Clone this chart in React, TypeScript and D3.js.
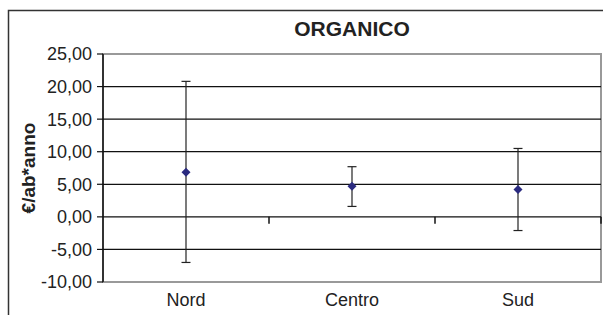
import React from "react";
import * as d3 from "d3";

// values
const categories = ["Nord", "Centro", "Sud"];
const means = [6.85, 4.7, 4.2];
const upper = [20.8, 7.7, 10.5];
const lower = [-7.0, 1.6, -2.1];
const yTicks = [-10, -5, 0, 5, 10, 15, 20, 25];

const W = 603, H = 315;
const plot = { left: 103, right: 601, top: 54, bottom: 282 };

const itLocale = d3.formatLocale({
    decimal: ",",
    thousands: ".",
    grouping: [3],
    currency: ["€", ""],
    minus: "-",
});
const fmt = itLocale.format(".2f");

function App() {
    const x = d3.scaleBand().domain(categories).range([plot.left, plot.right]);
    const y = d3.scaleLinear().domain([-10, 25]).range([plot.bottom, plot.top]);
    const font = "'Liberation Sans', Arial, sans-serif";
    const y0 = y(0);

    // category boundaries for the x-axis ticks
    const bounds = categories.map((c) => (x(c) as number) + x.bandwidth());

    return (
        <svg width={W} height={H} style={{ position: "absolute", left: 0, top: 0 }} fontFamily={font}>
            <rect x={0} y={0} width={W} height={H} fill="#fff" />
            {/* outer chart border */}
            <rect x={8.5} y={10.5} width={603} height={315} fill="none" stroke="#333" strokeWidth={1.5} />

            <text x={(plot.left + plot.right) / 2} y={36} textAnchor="middle" fontSize={21} fontWeight="bold" fill="#222">
                ORGANICO
            </text>

            {/* plot area border */}
            <rect x={plot.left} y={plot.top} width={plot.right - plot.left} height={plot.bottom - plot.top}
                  fill="none" stroke="#999" strokeWidth={2} />

            {/* gridlines */}
            {yTicks.filter((t) => t > -10 && t < 25).map((t) => (
                <line key={t} x1={plot.left} x2={plot.right} y1={y(t)} y2={y(t)} stroke="#111" strokeWidth={1.2} />
            ))}

            {/* y axis */}
            <line x1={plot.left} x2={plot.left} y1={plot.top} y2={plot.bottom} stroke="#111" strokeWidth={1.5} />
            {yTicks.map((t) => (
                <g key={t}>
                    <line x1={plot.left - 6} x2={plot.left} y1={y(t)} y2={y(t)} stroke="#111" strokeWidth={1.2} />
                    <text x={92} y={y(t)} dy="0.36em" textAnchor="end" fontSize={18} fill="#222">
                        {fmt(t)}
                    </text>
                </g>
            ))}
            <text transform={`translate(35,${(plot.top + plot.bottom) / 2}) rotate(-90)`} textAnchor="middle"
                  fontSize={19} fontWeight="bold" fill="#222">
                €/ab*anno
            </text>

            {/* x axis ticks at category boundaries */}
            {bounds.map((b, i) => (
                <line key={i} x1={b} x2={b} y1={y0} y2={y0 + 7} stroke="#111" strokeWidth={1.5} />
            ))}
            {categories.map((c) => (
                <text key={c} x={(x(c) as number) + x.bandwidth() / 2} y={306} textAnchor="middle" fontSize={18} fill="#222">
                    {c}
                </text>
            ))}

            {/* error bars and means */}
            {categories.map((c, i) => {
                const cx = (x(c) as number) + x.bandwidth() / 2;
                const s = 4.5;
                return (
                    <g key={c}>
                        <line x1={cx} x2={cx} y1={y(upper[i])} y2={y(lower[i])} stroke="#222" strokeWidth={1.2} />
                        <line x1={cx - 4.5} x2={cx + 4.5} y1={y(upper[i])} y2={y(upper[i])} stroke="#222" strokeWidth={1.2} />
                        <line x1={cx - 4.5} x2={cx + 4.5} y1={y(lower[i])} y2={y(lower[i])} stroke="#222" strokeWidth={1.2} />
                        <path d={`M${cx},${y(means[i]) - s}L${cx + s},${y(means[i])}L${cx},${y(means[i]) + s}L${cx - s},${y(means[i])}Z`}
                              fill="#2b2b80" />
                    </g>
                );
            })}
        </svg>
    );
}

export default App;
